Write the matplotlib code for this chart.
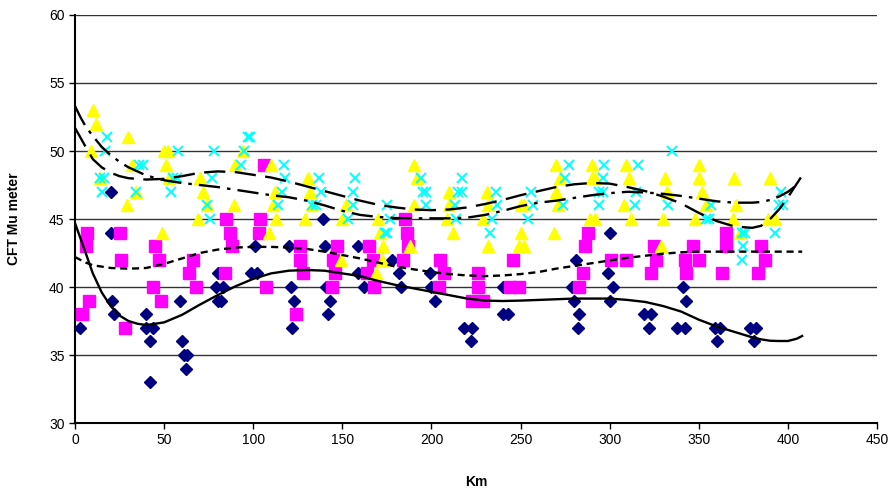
import matplotlib
matplotlib.use("Agg")
import matplotlib.pyplot as plt

plt.rcParams['font.family'] = ['Liberation Sans', 'DejaVu Sans']

# scatter series (km, mu)
navy_x = [3, 20, 20, 21, 22, 40, 40, 44, 42, 42, 59, 60, 61, 63, 62, 80, 82, 79, 83, 80, 82,
          101, 99, 102, 120, 121, 123, 122, 139, 140, 141, 143, 142, 159, 159, 162, 178, 182, 183,
          199, 200, 202, 218, 223, 222, 240, 240, 243, 281, 279, 280, 283, 282, 300, 299, 302, 300,
          319, 323, 322, 341, 343, 338, 342, 359, 362, 360, 379, 382, 381]
navy_y = [37, 47, 44, 39, 38, 38, 37, 37, 36, 33, 39, 36, 35, 35, 34, 41, 41, 40, 40, 39, 39,
          43, 41, 41, 43, 40, 39, 37, 45, 43, 40, 39, 38, 43, 41, 40, 42, 41, 40,
          41, 40, 39, 37, 37, 36, 40, 38, 38, 42, 40, 39, 38, 37, 44, 41, 40, 39,
          38, 38, 37, 40, 39, 37, 37, 37, 37, 36, 37, 37, 36]

pink_x = [7, 6, 25, 45, 47, 26, 8, 4, 28, 44, 48, 66, 64, 68, 84, 85, 87, 88, 104, 103, 106, 107,
          126, 126, 128, 124, 147, 145, 146, 144, 165, 167, 164, 168, 185, 186, 187, 184,
          205, 207, 204, 226, 226, 223, 229, 246, 244, 249, 288, 286, 285, 283, 301, 309,
          325, 326, 323, 347, 342, 350, 343, 365, 365, 363, 385, 387, 383]
pink_y = [44, 43, 44, 43, 42, 42, 39, 38, 37, 40, 39, 42, 41, 40, 41, 45, 44, 43, 45, 44, 49, 40,
          43, 42, 41, 38, 43, 42, 41, 40, 43, 42, 41, 40, 45, 44, 43, 42,
          42, 41, 40, 41, 40, 39, 39, 42, 40, 40, 44, 43, 41, 40, 42, 42,
          43, 42, 41, 43, 42, 42, 41, 44, 43, 41, 43, 42, 41]

yellow_x = [10, 12, 9, 14, 30, 32, 34, 29, 49, 50, 52, 51, 53, 70, 72, 69, 74, 89, 90, 94,
            110, 112, 111, 113, 109, 131, 132, 133, 129, 149, 152, 150, 170, 171, 173, 172, 169,
            190, 192, 190, 188, 210, 210, 209, 212, 231, 232, 229, 232, 250, 252, 250, 249, 252,
            269, 270, 272, 270, 271, 290, 290, 292, 289, 292, 309, 311, 308, 312,
            329, 331, 332, 330, 350, 350, 352, 354, 348, 370, 371, 369, 373, 390, 389, 393]
yellow_y = [53, 52, 50, 48, 51, 49, 47, 46, 44, 50, 50, 49, 48, 48, 47, 45, 46, 46, 49, 50,
            49, 47, 46, 45, 44, 48, 47, 46, 45, 42, 46, 45, 45, 44, 43, 42, 41,
            49, 48, 46, 43, 47, 46, 45, 44, 47, 46, 45, 43, 46, 46, 44, 43, 43,
            44, 49, 48, 47, 46, 49, 48, 48, 45, 45, 49, 48, 46, 45,
            43, 48, 47, 45, 49, 48, 47, 46, 45, 48, 46, 45, 44, 48, 45, 45]

cyan_x = [18, 17, 14, 16, 15, 36, 38, 34, 54, 55, 57, 58, 78, 77, 74, 76, 97, 98, 95, 93,
          117, 118, 116, 114, 137, 138, 133, 135, 157, 156, 156, 153, 175, 177, 174, 175,
          194, 195, 197, 197, 217, 215, 217, 213, 214, 236, 237, 234, 233, 256, 257, 254,
          277, 275, 274, 297, 296, 294, 296, 294, 316, 315, 314, 335, 333, 357, 354, 356,
          374, 376, 375, 374, 396, 395, 397, 393]
cyan_y = [51, 50, 48, 48, 47, 49, 49, 47, 47, 48, 48, 50, 50, 48, 46, 45, 51, 51, 50, 49,
          49, 48, 47, 46, 48, 47, 46, 46, 48, 47, 46, 45, 46, 45, 44, 44,
          48, 47, 47, 46, 48, 47, 47, 46, 45, 47, 46, 45, 44, 47, 46, 45,
          49, 48, 46, 49, 48, 47, 47, 46, 49, 47, 46, 50, 46, 46, 45, 45,
          44, 44, 43, 42, 47, 46, 46, 44]

# trend lines
trend_x = [0, 3, 6, 10, 15, 20, 25, 30, 35, 40, 50, 60, 70, 80, 90, 100, 110, 120, 130, 140, 150,
           160, 170, 180, 190, 200, 210, 220, 230, 240, 250, 260, 270, 280, 290, 300, 310, 320,
           330, 340, 350, 360, 370, 380, 385, 390, 395, 400, 405, 408]
navy_trend = [44.7, 43.6, 42.5, 41.0, 39.6, 38.6, 37.9, 37.5, 37.3, 37.2, 37.4, 37.95, 38.7, 39.4,
              40.05, 40.6, 41.0, 41.2, 41.25, 41.2, 41.0, 40.8, 40.45, 40.15, 39.9, 39.65, 39.4,
              39.15, 39.0, 38.97, 39.0, 39.05, 39.1, 39.15, 39.15, 39.15, 39.05, 38.9, 38.6, 38.2,
              37.6, 37.1, 36.7, 36.3, 36.15, 36.05, 36.03, 36.03, 36.2, 36.4]
pink_trend = [42.2, 42.0, 41.8, 41.6, 41.5, 41.4, 41.37, 41.35, 41.37, 41.4, 41.7, 42.1, 42.5,
              42.75, 42.9, 42.95, 42.95, 42.9, 42.8, 42.6, 42.35, 42.1, 41.8, 41.5, 41.3, 41.1,
              40.95, 40.85, 40.8, 40.85, 40.95, 41.1, 41.35, 41.55, 41.75, 41.95, 42.15, 42.3,
              42.45, 42.55, 42.6, 42.6, 42.6, 42.6, 42.6, 42.6, 42.6, 42.6, 42.6, 42.6]
yellow_trend = [51.7, 51.0, 50.3, 49.4, 48.8, 48.4, 48.15, 48.0, 47.95, 47.9, 47.95, 48.15, 48.4,
                48.5, 48.45, 48.25, 48.05, 47.75, 47.4, 47.05, 46.7, 46.35, 46.05, 45.85, 45.7,
                45.65, 45.7, 45.85, 46.1, 46.4, 46.75, 47.05, 47.35, 47.55, 47.65, 47.6, 47.35,
                47.05, 46.65, 46.15, 45.45, 44.85, 44.45, 44.35, 44.5, 45.0, 45.7, 46.6, 47.6, 48.2]
cyan_trend = [53.3, 52.5, 51.8, 51.1, 50.3, 49.7, 49.2, 48.8, 48.5, 48.2, 47.85, 47.65, 47.5,
              47.35, 47.15, 46.95, 46.75, 46.6, 46.35, 46.0, 45.6, 45.3, 45.15, 45.07, 45.05,
              45.05, 45.05, 45.1, 45.3, 45.6, 45.95, 46.2, 46.35, 46.55, 46.75, 46.9, 47.0,
              46.95, 46.85, 46.7, 46.5, 46.3, 46.2, 46.2, 46.25, 46.4, 46.65, 47.0, 47.5, 47.8]

fig = plt.figure(figsize=(8.94, 4.90), dpi=100)
ax = fig.add_axes([0.0839, 0.1367, 0.8971, 0.8327])

ax.plot(navy_x, navy_y, 'D', color='#000080', markersize=6, linestyle='none', zorder=3)
ax.plot(pink_x, pink_y, 's', color='#FF00FF', markersize=8, linestyle='none', zorder=3)
ax.plot(yellow_x, yellow_y, '^', color='#FFFF00', markersize=8.5, linestyle='none', zorder=3)
ax.plot(cyan_x, cyan_y, 'x', color='#00FFFF', markersize=7.5, mew=1.4, linestyle='none', zorder=3)

ax.plot(trend_x, navy_trend, color='black', lw=1.7, zorder=4)
ax.plot(trend_x, pink_trend, color='black', lw=1.7, dashes=(3, 2), zorder=4)
ax.plot(trend_x, yellow_trend, color='black', lw=1.7, dashes=(9, 4), zorder=4)
ax.plot(trend_x[:-1], cyan_trend[:-1], color='black', lw=1.7, dashes=(9, 3, 1.5, 3), zorder=4)

ax.set_xlim(0, 450)
ax.set_ylim(30, 60)
ax.set_xticks(range(0, 451, 50))
ax.set_yticks(range(30, 61, 5))
ax.grid(axis='y', color='#333333', lw=1)
ax.set_axisbelow(True)
for s in ['top', 'right']:
    ax.spines[s].set_visible(False)
ax.spines['left'].set_linewidth(1.5)
ax.spines['bottom'].set_linewidth(1.5)
ax.tick_params(direction='out', length=4, width=1, labelsize=10)
ax.set_xlabel('Km', fontsize=10, fontweight='bold', labelpad=20)
ax.set_ylabel('CFT Mu meter', fontsize=10, fontweight='bold', labelpad=20)

fig.savefig('out.png', dpi=100)
